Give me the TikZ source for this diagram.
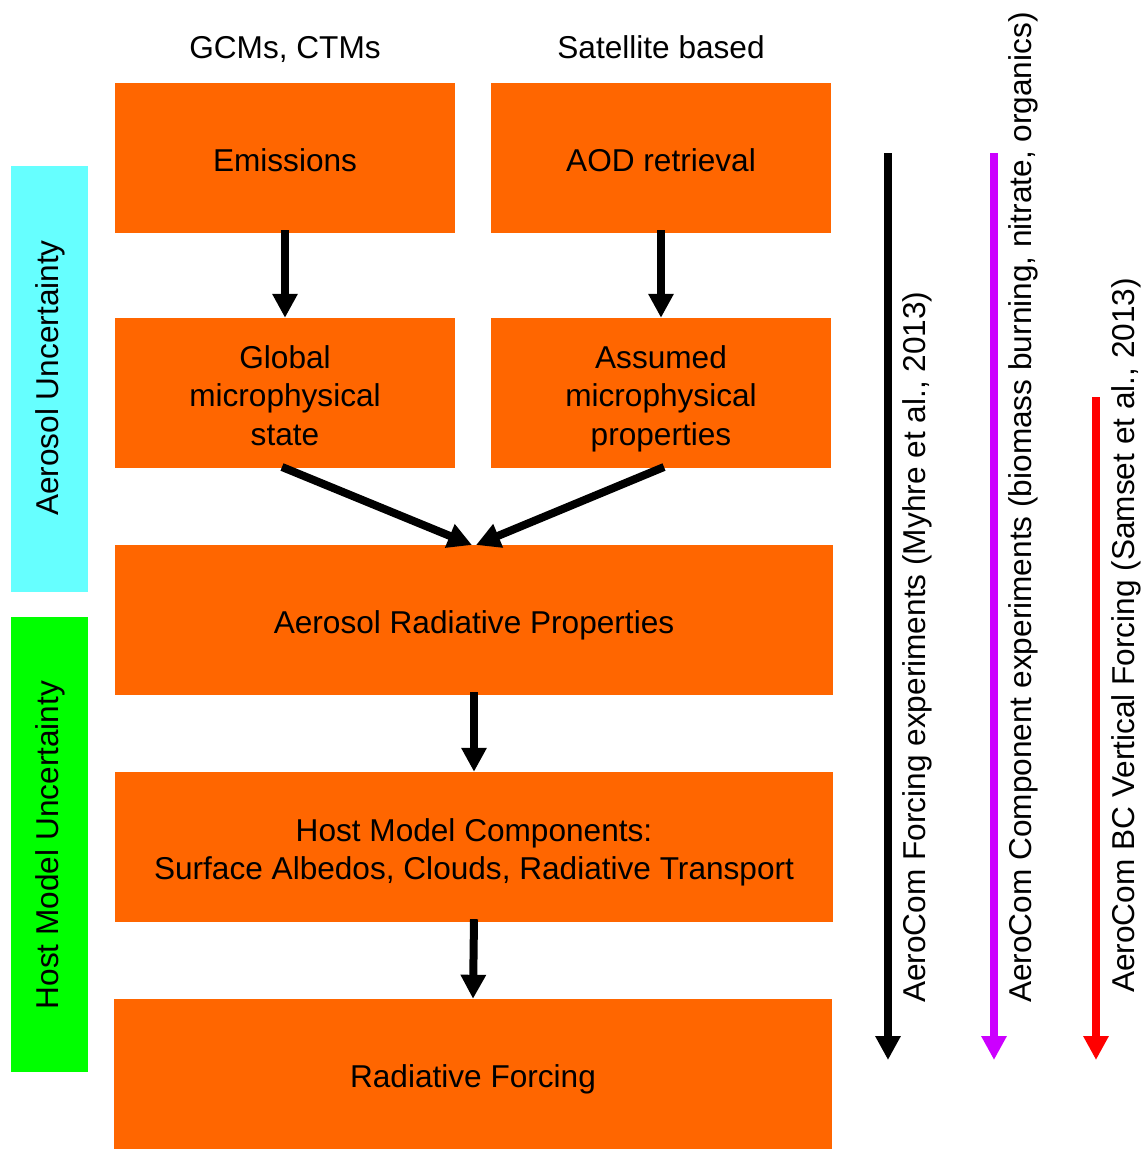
\documentclass[tikz,border=0pt]{standalone}
\usepackage{fontspec}
\setmainfont{Liberation Sans}
\usetikzlibrary{arrows.meta}
\definecolor{boxorange}{HTML}{FF6600}
\definecolor{barcyan}{HTML}{66FFFF}
\definecolor{bargreen}{HTML}{00FF00}
\definecolor{lineviolet}{HTML}{CC00FF}
\definecolor{linered}{HTML}{FF0000}
\newcommand{\labelfont}{\fontsize{31.6}{38.5}\selectfont}
\tikzset{
  stage/.style={fill=boxorange, draw=none, inner sep=0pt, minimum height=150pt},
  narrow/.style={stage, minimum width=340pt},
  wide/.style={stage, minimum width=718pt},
  % the text block is measured from the top of the first line to the last baseline
  stagetext/.style={inner sep=0pt, align=center, font=\labelfont,
    text height=#1, text depth=0pt, yshift=-2pt},
  stagetext/.default=23pt,
  band/.style={draw=none, inner sep=0pt, minimum width=77pt},
  bandlabel/.style={rotate=90, inner sep=0pt, font=\labelfont},
  flow/.style={line width=8pt, -{Triangle[length=24pt,width=24pt]}},
  heading/.style={inner sep=0pt, anchor=base, font=\labelfont},
}
\begin{document}
\begin{tikzpicture}[x=1pt, y=-1pt]
\useasboundingbox (0,0) rectangle (1143,1149);

% column headings
\node[heading] (hmodel) at (285,58.5) {GCMs, CTMs};
\node[heading] (hsat) at (661,58.5) {Satellite based};

% flow boxes
\node[narrow] (emis) at (285,158) {};
\node[narrow] (aod) at (661,158) {};
\node[narrow] (glob) at (285,393) {};
\node[narrow] (assm) at (661,393) {};
\node[wide] (arp) at (474,620) {};
\node[wide] (host) at (474,847) {};
\node[wide] (rf) at (473,1074) {};

% box texts
\node[stagetext] (emist) at (emis.center) {Emissions};
\node[stagetext] (aodt) at (aod.center) {AOD retrieval};
\node[stagetext=100pt] (globt) at (glob.center) {Global\\ microphysical\\ state};
\node[stagetext=100pt] (assmt) at (assm.center) {Assumed\\ microphysical\\ properties};
\node[stagetext] (arpt) at (arp.center) {Aerosol Radiative Properties};
\node[stagetext=61.5pt] (hostt) at (host.center) {Host Model Components:\\ Surface Albedos, Clouds, Radiative Transport};
\node[stagetext] (rft) at (rf.center) {Radiative Forcing};

% uncertainty bands on the left
\node[band, fill=barcyan, minimum height=426pt] (aerband) at (49.5,379) {};
\node[bandlabel] (aerlab) at (50,378) {Aerosol Uncertainty};
\node[band, fill=bargreen, minimum height=455pt] (hostband) at (49.5,844.5) {};
\node[bandlabel] (hostlab) at (50,845) {Host Model Uncertainty};

% flow connectors
\draw[flow] ([yshift=3pt]emis.south) -- (glob.north);
\draw[flow] ([yshift=3pt]aod.south) -- (assm.north);
\coordinate (gtail) at (282,467);
\coordinate (atail) at (664,467);
\coordinate (ltip) at (472,545);
\coordinate (rtip) at (476,545);
\draw[flow] (gtail) -- (ltip);
\draw[flow] (atail) -- (rtip);
\draw[flow] ([yshift=3pt]arp.south) -- (host.north);
\draw[flow] ([yshift=3pt]host.south) -- (rf.north);

% experiment ranges on the right
\coordinate (forceTop) at (888,153);
\coordinate (forceEnd) at (888,1060);
\coordinate (compTop) at (994,153);
\coordinate (compEnd) at (994,1060);
\coordinate (bcTop) at (1096,397);
\coordinate (bcEnd) at (1096,1060);
\draw[flow, black] (forceTop) -- (forceEnd);
\draw[flow, lineviolet] (compTop) -- (compEnd);
\draw[flow, linered] (bcTop) -- (bcEnd);
\node[bandlabel, anchor=west] (forcelab) at (917,1003) {AeroCom Forcing experiments (Myhre et al., 2013)};
\node[bandlabel, anchor=west] (complab) at (1023,1003) {AeroCom Component experiments (biomass burning, nitrate, organics)};
\node[bandlabel, anchor=west] (bclab) at (1126,993) {AeroCom BC Vertical Forcing (Samset et al., 2013)};
\end{tikzpicture}
\end{document}
